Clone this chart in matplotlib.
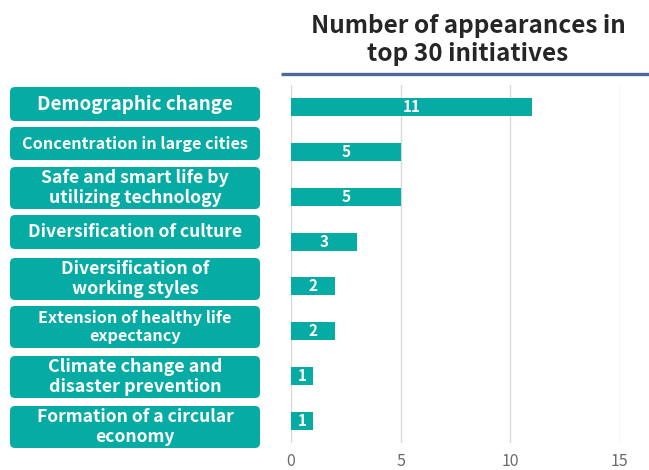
import matplotlib.pyplot as plt
from matplotlib.patches import FancyBboxPatch

plt.rcParams['font.family'] = ['Noto Sans CJK JP', 'DejaVu Sans']

categories = [
    'Demographic change',
    'Concentration in large cities',
    'Safe and smart life by\nutilizing technology',
    'Diversification of culture',
    'Diversification of\nworking styles',
    'Extension of healthy life\nexpectancy',
    'Climate change and\ndisaster prevention',
    'Formation of a circular\neconomy',
]
counts = [11, 5, 5, 3, 2, 2, 1, 1]
x_ticks = [0, 5, 10, 15]
title = 'Number of appearances in\ntop 30 initiatives'

teal = '#06ACA4'

fig = plt.figure(figsize=(6.49, 4.70), dpi=100)

# bar chart
ax = fig.add_axes([291 / 649, 1 - 443 / 470, (620 - 291) / 649, (443 - 85) / 470])
y = list(range(len(counts)))
bars = ax.barh(y, counts, height=0.4, color=teal, zorder=3)
ax.set_ylim(len(counts) - 0.5, -0.5)
ax.set_xlim(0, 15)
ax.set_xticks(x_ticks)
ax.set_yticks([])
ax.tick_params(axis='x', length=0, labelsize=11.5, colors='#6b6b6b', pad=7)
ax.grid(axis='x', color='#d9d9d9', linewidth=1, zorder=0)
for s in ax.spines.values():
    s.set_visible(False)
for bar, v in zip(bars, counts):
    ax.text(bar.get_width() / 2, bar.get_y() + bar.get_height() / 2, str(v),
            ha='center', va='center', color='white', fontsize=11, fontweight='bold', zorder=4)

# overlay in pixel coordinates for label boxes and title
ov = fig.add_axes([0, 0, 1, 1], zorder=5)
ov.set_xlim(0, 649)
ov.set_ylim(470, 0)
ov.axis('off')

box_spans = [(87, 121), (127, 160), (167, 209), (215, 249),
             (258, 300), (306, 348), (356, 398), (406, 448)]
font_sizes = [13.5, 11.7, 12.7, 12.6, 12.7, 11.7, 12.9, 12.6]
for (top, bot), label, fs in zip(box_spans, categories, font_sizes):
    r = 5
    ov.add_patch(FancyBboxPatch((10 + r, top + r), 250 - 2 * r, bot - top - 2 * r,
                                boxstyle=f'round,pad={r}', facecolor=teal, edgecolor='none'))
    ov.text(135, (top + bot) / 2, label, ha='center', va='center', color='white',
            fontsize=fs, fontweight='bold', linespacing=1.1)

ov.text(468, 40, title, ha='center', va='center', fontsize=17.5, fontweight='bold',
        color='#262626', linespacing=1.2)
ov.plot([281, 649], [74, 74], color='#4E6A9D', linewidth=2.4, solid_capstyle='butt')

fig.savefig('out.png', dpi=100)
